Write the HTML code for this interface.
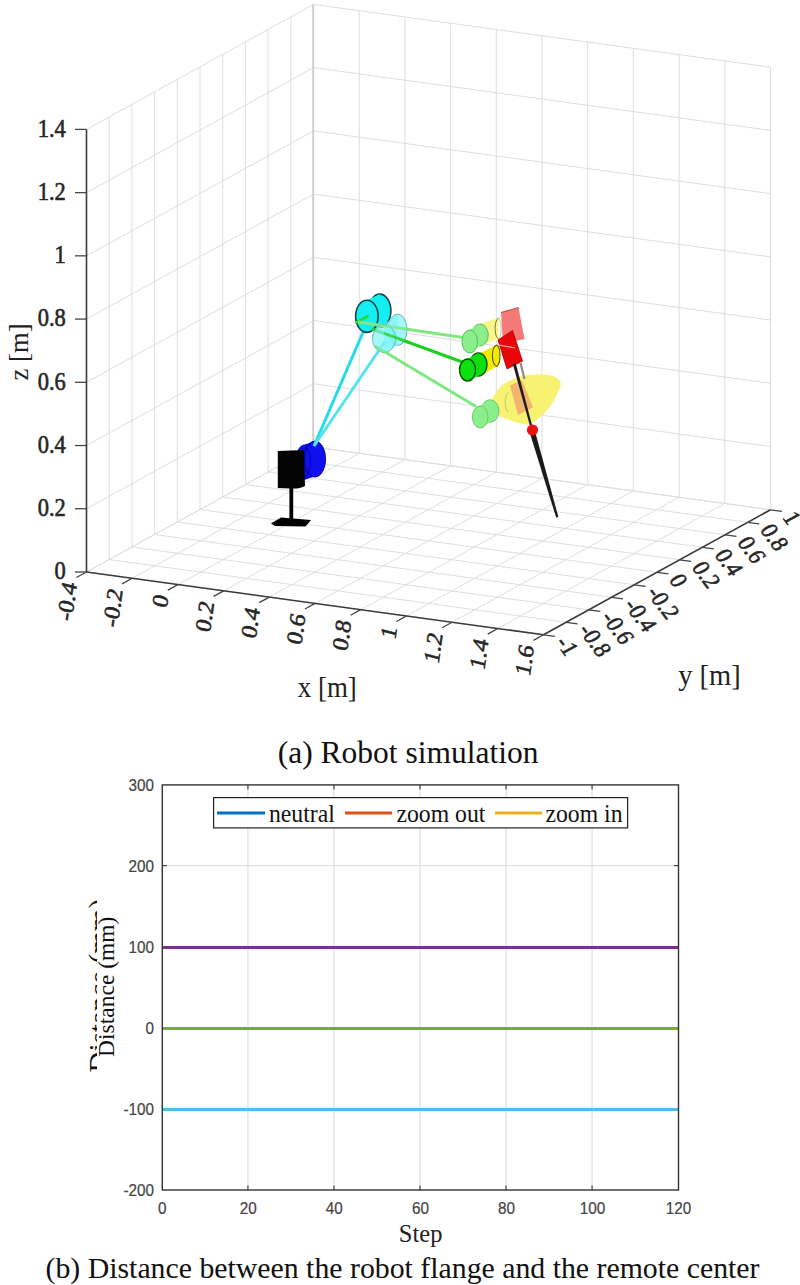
<!DOCTYPE html>
<html><head><meta charset="utf-8">
<style>
html,body{margin:0;padding:0;background:#fff;}
body{width:800px;height:1285px;overflow:hidden;position:relative;}
svg{position:absolute;left:0;top:0;}
.g{stroke:#dedede;stroke-width:1;}
.gc{stroke:#cbcbcb;stroke-width:1.8;}
.ax{stroke:#3a3a3a;stroke-width:1.6;}
.tk{stroke:#444;stroke-width:1.3;}
.tl{font-family:"Liberation Serif",serif;font-size:22.5px;fill:#262626;stroke:#262626;stroke-width:0.55px;}
.lab{font-family:"Liberation Serif",serif;font-size:28px;fill:#222;}
.cap{font-family:"Liberation Serif",serif;font-size:29px;fill:#111;}
.gb{stroke:#d9d9d9;stroke-width:1;}
.tkb{stroke:#444;stroke-width:1.2;}
.tb{font-family:"Liberation Sans",sans-serif;font-size:15.3px;fill:#444;stroke:#444;stroke-width:0.2px;}
.leg{font-family:"Liberation Serif",serif;font-size:23px;fill:#111;}
</style></head><body>
<svg width="800" height="1285" viewBox="0 0 800 1285">
<defs><clipPath id="ghostclip"><rect x="0" y="880" width="97" height="220"/></clipPath></defs>
<g id="grid">
<line x1="86.50" y1="572.00" x2="86.50" y2="129.40" class="g"/>
<line x1="109.20" y1="559.50" x2="109.20" y2="116.90" class="g"/>
<line x1="131.90" y1="547.00" x2="131.90" y2="104.40" class="g"/>
<line x1="154.60" y1="534.50" x2="154.60" y2="91.90" class="g"/>
<line x1="177.30" y1="522.00" x2="177.30" y2="79.40" class="g"/>
<line x1="200.00" y1="509.50" x2="200.00" y2="66.90" class="g"/>
<line x1="222.70" y1="497.00" x2="222.70" y2="54.40" class="g"/>
<line x1="245.40" y1="484.50" x2="245.40" y2="41.90" class="g"/>
<line x1="268.10" y1="472.00" x2="268.10" y2="29.40" class="g"/>
<line x1="290.80" y1="459.50" x2="290.80" y2="16.90" class="g"/>
<line x1="313.50" y1="447.00" x2="313.50" y2="4.40" class="g"/>
<line x1="86.50" y1="572.00" x2="313.50" y2="447.00" class="g"/>
<line x1="86.50" y1="508.77" x2="313.50" y2="383.77" class="g"/>
<line x1="86.50" y1="445.54" x2="313.50" y2="320.54" class="g"/>
<line x1="86.50" y1="382.31" x2="313.50" y2="257.31" class="g"/>
<line x1="86.50" y1="319.09" x2="313.50" y2="194.09" class="g"/>
<line x1="86.50" y1="255.86" x2="313.50" y2="130.86" class="g"/>
<line x1="86.50" y1="192.63" x2="313.50" y2="67.63" class="g"/>
<line x1="86.50" y1="129.40" x2="313.50" y2="4.40" class="g"/>
<line x1="313.50" y1="447.00" x2="313.50" y2="4.40" class="g"/>
<line x1="359.20" y1="453.28" x2="359.20" y2="10.68" class="g"/>
<line x1="404.90" y1="459.56" x2="404.90" y2="16.96" class="g"/>
<line x1="450.60" y1="465.84" x2="450.60" y2="23.24" class="g"/>
<line x1="496.30" y1="472.12" x2="496.30" y2="29.52" class="g"/>
<line x1="542.00" y1="478.40" x2="542.00" y2="35.80" class="g"/>
<line x1="587.70" y1="484.68" x2="587.70" y2="42.08" class="g"/>
<line x1="633.40" y1="490.96" x2="633.40" y2="48.36" class="g"/>
<line x1="679.10" y1="497.24" x2="679.10" y2="54.64" class="g"/>
<line x1="724.80" y1="503.52" x2="724.80" y2="60.92" class="g"/>
<line x1="770.50" y1="509.80" x2="770.50" y2="67.20" class="g"/>
<line x1="313.50" y1="447.00" x2="770.50" y2="509.80" class="g"/>
<line x1="313.50" y1="383.77" x2="770.50" y2="446.57" class="g"/>
<line x1="313.50" y1="320.54" x2="770.50" y2="383.34" class="g"/>
<line x1="313.50" y1="257.31" x2="770.50" y2="320.11" class="g"/>
<line x1="313.50" y1="194.09" x2="770.50" y2="256.89" class="g"/>
<line x1="313.50" y1="130.86" x2="770.50" y2="193.66" class="g"/>
<line x1="313.50" y1="67.63" x2="770.50" y2="130.43" class="g"/>
<line x1="313.50" y1="4.40" x2="770.50" y2="67.20" class="g"/>
<line x1="313.20" y1="447.00" x2="313.20" y2="4.40" class="gc"/>
<line x1="86.50" y1="572.00" x2="543.50" y2="634.80" class="g"/>
<line x1="109.20" y1="559.50" x2="566.20" y2="622.30" class="g"/>
<line x1="131.90" y1="547.00" x2="588.90" y2="609.80" class="g"/>
<line x1="154.60" y1="534.50" x2="611.60" y2="597.30" class="g"/>
<line x1="177.30" y1="522.00" x2="634.30" y2="584.80" class="g"/>
<line x1="200.00" y1="509.50" x2="657.00" y2="572.30" class="g"/>
<line x1="222.70" y1="497.00" x2="679.70" y2="559.80" class="g"/>
<line x1="245.40" y1="484.50" x2="702.40" y2="547.30" class="g"/>
<line x1="268.10" y1="472.00" x2="725.10" y2="534.80" class="g"/>
<line x1="290.80" y1="459.50" x2="747.80" y2="522.30" class="g"/>
<line x1="313.50" y1="447.00" x2="770.50" y2="509.80" class="g"/>
<line x1="86.50" y1="572.00" x2="313.50" y2="447.00" class="g"/>
<line x1="132.20" y1="578.28" x2="359.20" y2="453.28" class="g"/>
<line x1="177.90" y1="584.56" x2="404.90" y2="459.56" class="g"/>
<line x1="223.60" y1="590.84" x2="450.60" y2="465.84" class="g"/>
<line x1="269.30" y1="597.12" x2="496.30" y2="472.12" class="g"/>
<line x1="315.00" y1="603.40" x2="542.00" y2="478.40" class="g"/>
<line x1="360.70" y1="609.68" x2="587.70" y2="484.68" class="g"/>
<line x1="406.40" y1="615.96" x2="633.40" y2="490.96" class="g"/>
<line x1="452.10" y1="622.24" x2="679.10" y2="497.24" class="g"/>
<line x1="497.80" y1="628.52" x2="724.80" y2="503.52" class="g"/>
<line x1="543.50" y1="634.80" x2="770.50" y2="509.80" class="g"/>
</g>
<g id="robot">
<!-- base -->
<polygon points="271,523.5 281,517.5 311,520 305.5,526.5 275,526" fill="#000"/>
<rect x="289.4" y="486" width="3.8" height="33" fill="#000"/>
<g>
<ellipse cx="305" cy="462" rx="10" ry="17.5" fill="#0c0ce0"/>
<polygon points="305,444.5 315,441 315,476.5 305,479.5" fill="#0c0ce0"/>
<ellipse cx="315" cy="459" rx="10.6" ry="18" fill="#1010ee" stroke="#000090" stroke-width="0.9"/>
<path d="M306,447 C312,452 312,470 306,477" fill="none" stroke="#0000a0" stroke-width="0.8"/>
</g>
<path d="M277.8,451 L304,450 L305,486 Q300,489 290,488.5 L277.8,488 Z" fill="#040404"/>
<!-- cyan links -->
<line x1="314" y1="446" x2="367" y2="323" stroke="#22dde8" stroke-width="3"/>
<line x1="314" y1="446" x2="386" y2="340" stroke="#55e3ee" stroke-width="3"/>
<!-- opaque elbow -->
<g stroke="#1a4448" stroke-width="1.6">
<ellipse cx="379.8" cy="310.8" rx="11.1" ry="16.7" fill="#12eef2"/>
<polygon points="366.9,300.2 379.8,294.1 379.8,327.5 366.9,332.4" fill="#12eef2" stroke="none"/>
<ellipse cx="366.9" cy="316.3" rx="11.25" ry="16.1" fill="#12eef2"/>
</g>
<line x1="356.4" y1="322.3" x2="367.6" y2="316.3" stroke="#20e020" stroke-width="2.6" stroke-linecap="round"/>
<!-- green links (under translucent elbow) -->
<line x1="358" y1="322" x2="463" y2="337.5" stroke="#80e880" stroke-width="3"/>
<line x1="372" y1="328.9" x2="465" y2="363.1" stroke="#20d020" stroke-width="3.2"/>
<line x1="375" y1="346" x2="476" y2="406.5" stroke="#80e880" stroke-width="3"/>
<!-- translucent elbow -->
<g stroke="#5aa8b0" stroke-width="1" fill-opacity="0.7" stroke-opacity="0.8">
<ellipse cx="397.6" cy="329.75" rx="9.4" ry="15.75" fill="#80f4f4"/>
<polygon points="384,324.6 397.6,314 397.6,345.5 384,352.6" fill="#80f4f4" stroke="none"/>
<ellipse cx="384" cy="338.6" rx="11.6" ry="14" fill="#80f4f4"/>
</g>
<line x1="380" y1="325.6" x2="410" y2="329.5" stroke="#80e880" stroke-width="2.5" opacity="0.7"/>
<line x1="384" y1="333.3" x2="410" y2="342.9" stroke="#20d020" stroke-width="2.8" opacity="0.75"/>
<line x1="375" y1="346" x2="398" y2="359.8" stroke="#80e880" stroke-width="2.6" opacity="0.6"/>
<!-- wrist top translucent -->
<polygon points="479,324 498.5,318 498.5,339 479,346" fill="#fbf58c"/>
<path d="M498.5,318 C494,320 494,337 498.5,339" fill="none" stroke="#7a7a30" stroke-width="1"/>
<path d="M498.5,318 C502,320 502,337 498.5,339" fill="none" stroke="#7a7a30" stroke-width="0.8" opacity="0.6"/>
<g stroke="#5cbc5c" stroke-width="1">
<ellipse cx="480" cy="335" rx="8.25" ry="11" fill="#8aee8a"/>
<polygon points="469.75,330 480,324 480,346 469.75,353" fill="#8aee8a" stroke="none"/>
<ellipse cx="469.75" cy="341.5" rx="7.75" ry="11.5" fill="#8aee8a"/>
</g>
<polygon points="501,312.5 518.5,307.5 524.5,339 503,344" fill="#f47a78"/>
<line x1="501" y1="312.5" x2="518.5" y2="307.5" stroke="#c05050" stroke-width="1.2"/>
<!-- wrist middle opaque -->
<polygon points="480,353 496.75,345 496.75,366.5 480,376" fill="#f2ea00"/>
<path d="M496.75,345 C491,347 491,364 496.75,366.5 C501,364 501,347 496.75,345 Z" fill="#f2ea00" stroke="#5b5b00" stroke-width="1.1"/>
<g stroke="#075a07" stroke-width="1.5">
<ellipse cx="478.5" cy="364.5" rx="8.5" ry="11.5" fill="#0ee00e"/>
<polygon points="467.5,359 478.5,353 478.5,376 467.5,381" fill="#0ee00e" stroke="none"/>
<ellipse cx="467.5" cy="370" rx="8" ry="11" fill="#0ee00e"/>
</g>
<polygon points="498,340 512.5,330.5 522.5,361 507,369" fill="#ea0606" stroke="#a00000" stroke-width="0.8"/>
<line x1="499" y1="345" x2="515" y2="348" stroke="#f6b0b0" stroke-width="1.2"/>
<!-- wrist bottom translucent -->
<path d="M490,402.5 C496,392 500,385 506.25,382.5 C515,377 525,374.5 535,374.4 C545,374 553,375 557.5,378.75 C561,381 561.5,384 560,387.5 C556,398 550,408 542.5,415 C537,420 532,424 527.5,425 C519,423 510,421 502.5,417.5 C496,414 491,408 490,402.5 Z" fill="#f8f272"/>
<path d="M508.75,392.5 C504,395 504,410 508.75,412.5" fill="none" stroke="#c8c070" stroke-width="1"/>
<polygon points="510,385.6 521.9,380 533,407.5 518,415" fill="#f2b470"/>
<g stroke="#6cc86c" stroke-width="1">
<ellipse cx="490" cy="411" rx="9" ry="11.25" fill="#8aee8a"/>
<polygon points="480.25,406 490,399.75 490,422.25 480.25,428" fill="#8aee8a" stroke="none"/>
<ellipse cx="480.25" cy="417" rx="7.8" ry="11" fill="#8aee8a"/>
</g>
<!-- tool -->
<line x1="520.5" y1="363" x2="524.5" y2="379" stroke="#8a8a8a" stroke-width="2.2"/>
<path d="M512.8,364 L515.8,363.5 L532,425 L530,426 Z" fill="#1e1e1e"/>
<path d="M529.8,433 L535.2,432 L558.4,517 L556.2,517.6 Z" fill="#1a1a1a"/>
<circle cx="532.5" cy="430" r="5.6" fill="#ee1010"/>

</g>
<g id="axes">
<line x1="86.50" y1="572.00" x2="86.50" y2="129.40" class="ax"/>
<line x1="86.50" y1="572.00" x2="543.50" y2="634.80" class="ax"/>
<line x1="543.50" y1="634.80" x2="770.50" y2="509.80" class="ax"/>
<line x1="86.50" y1="572.00" x2="75.00" y2="572.00" class="tk"/>
<line x1="86.50" y1="508.77" x2="75.00" y2="508.77" class="tk"/>
<line x1="86.50" y1="445.54" x2="75.00" y2="445.54" class="tk"/>
<line x1="86.50" y1="382.31" x2="75.00" y2="382.31" class="tk"/>
<line x1="86.50" y1="319.09" x2="75.00" y2="319.09" class="tk"/>
<line x1="86.50" y1="255.86" x2="75.00" y2="255.86" class="tk"/>
<line x1="86.50" y1="192.63" x2="75.00" y2="192.63" class="tk"/>
<line x1="86.50" y1="129.40" x2="75.00" y2="129.40" class="tk"/>
<line x1="86.50" y1="572.00" x2="76.43" y2="577.55" class="tk"/>
<line x1="132.20" y1="578.28" x2="122.13" y2="583.83" class="tk"/>
<line x1="177.90" y1="584.56" x2="167.83" y2="590.11" class="tk"/>
<line x1="223.60" y1="590.84" x2="213.53" y2="596.39" class="tk"/>
<line x1="269.30" y1="597.12" x2="259.23" y2="602.67" class="tk"/>
<line x1="315.00" y1="603.40" x2="304.93" y2="608.95" class="tk"/>
<line x1="360.70" y1="609.68" x2="350.63" y2="615.23" class="tk"/>
<line x1="406.40" y1="615.96" x2="396.33" y2="621.51" class="tk"/>
<line x1="452.10" y1="622.24" x2="442.03" y2="627.79" class="tk"/>
<line x1="497.80" y1="628.52" x2="487.73" y2="634.07" class="tk"/>
<line x1="543.50" y1="634.80" x2="533.43" y2="640.35" class="tk"/>
<line x1="543.50" y1="634.80" x2="554.89" y2="636.37" class="tk"/>
<line x1="566.20" y1="622.30" x2="577.59" y2="623.87" class="tk"/>
<line x1="588.90" y1="609.80" x2="600.29" y2="611.37" class="tk"/>
<line x1="611.60" y1="597.30" x2="622.99" y2="598.87" class="tk"/>
<line x1="634.30" y1="584.80" x2="645.69" y2="586.37" class="tk"/>
<line x1="657.00" y1="572.30" x2="668.39" y2="573.87" class="tk"/>
<line x1="679.70" y1="559.80" x2="691.09" y2="561.37" class="tk"/>
<line x1="702.40" y1="547.30" x2="713.79" y2="548.87" class="tk"/>
<line x1="725.10" y1="534.80" x2="736.49" y2="536.37" class="tk"/>
<line x1="747.80" y1="522.30" x2="759.19" y2="523.87" class="tk"/>
<line x1="770.50" y1="509.80" x2="781.89" y2="511.37" class="tk"/>
</g>
<text transform="translate(65.80,579.20) scale(1,1.15)" text-anchor="end" class="tl" >0</text>
<text transform="translate(65.80,515.97) scale(1,1.15)" text-anchor="end" class="tl" >0.2</text>
<text transform="translate(65.80,452.74) scale(1,1.15)" text-anchor="end" class="tl" >0.4</text>
<text transform="translate(65.80,389.51) scale(1,1.15)" text-anchor="end" class="tl" >0.6</text>
<text transform="translate(65.80,326.29) scale(1,1.15)" text-anchor="end" class="tl" >0.8</text>
<text transform="translate(65.80,263.06) scale(1,1.15)" text-anchor="end" class="tl" >1</text>
<text transform="translate(65.80,199.83) scale(1,1.15)" text-anchor="end" class="tl" >1.2</text>
<text transform="translate(65.80,136.60) scale(1,1.15)" text-anchor="end" class="tl" >1.4</text>
<g transform="translate(70.22,582.54) rotate(-82) skewX(-6) scale(1.08,1)"><text x="0" y="7" text-anchor="end" class="tl">-0.4</text></g>
<g transform="translate(115.92,588.82) rotate(-82) skewX(-6) scale(1.08,1)"><text x="0" y="7" text-anchor="end" class="tl">-0.2</text></g>
<g transform="translate(161.62,595.10) rotate(-82) skewX(-6) scale(1.08,1)"><text x="0" y="7" text-anchor="end" class="tl">0</text></g>
<g transform="translate(207.32,601.38) rotate(-82) skewX(-6) scale(1.08,1)"><text x="0" y="7" text-anchor="end" class="tl">0.2</text></g>
<g transform="translate(253.02,607.66) rotate(-82) skewX(-6) scale(1.08,1)"><text x="0" y="7" text-anchor="end" class="tl">0.4</text></g>
<g transform="translate(298.72,613.94) rotate(-82) skewX(-6) scale(1.08,1)"><text x="0" y="7" text-anchor="end" class="tl">0.6</text></g>
<g transform="translate(344.42,620.22) rotate(-82) skewX(-6) scale(1.08,1)"><text x="0" y="7" text-anchor="end" class="tl">0.8</text></g>
<g transform="translate(390.12,626.50) rotate(-82) skewX(-6) scale(1.08,1)"><text x="0" y="7" text-anchor="end" class="tl">1</text></g>
<g transform="translate(435.82,632.78) rotate(-82) skewX(-6) scale(1.08,1)"><text x="0" y="7" text-anchor="end" class="tl">1.2</text></g>
<g transform="translate(481.52,639.06) rotate(-82) skewX(-6) scale(1.08,1)"><text x="0" y="7" text-anchor="end" class="tl">1.4</text></g>
<g transform="translate(527.22,645.34) rotate(-82) skewX(-6) scale(1.08,1)"><text x="0" y="7" text-anchor="end" class="tl">1.6</text></g>
<g transform="translate(561.33,638.75) scale(1,1.12) rotate(50) skewX(-14) scale(0.93,1)"><text x="0" y="7" text-anchor="start" class="tl">-1</text></g>
<g transform="translate(584.03,626.25) scale(1,1.12) rotate(50) skewX(-14) scale(0.93,1)"><text x="0" y="7" text-anchor="start" class="tl">-0.8</text></g>
<g transform="translate(606.73,613.75) scale(1,1.12) rotate(50) skewX(-14) scale(0.93,1)"><text x="0" y="7" text-anchor="start" class="tl">-0.6</text></g>
<g transform="translate(629.43,601.25) scale(1,1.12) rotate(50) skewX(-14) scale(0.93,1)"><text x="0" y="7" text-anchor="start" class="tl">-0.4</text></g>
<g transform="translate(652.13,588.75) scale(1,1.12) rotate(50) skewX(-14) scale(0.93,1)"><text x="0" y="7" text-anchor="start" class="tl">-0.2</text></g>
<g transform="translate(674.83,576.25) scale(1,1.12) rotate(50) skewX(-14) scale(0.93,1)"><text x="0" y="7" text-anchor="start" class="tl">0</text></g>
<g transform="translate(697.53,563.75) scale(1,1.12) rotate(50) skewX(-14) scale(0.93,1)"><text x="0" y="7" text-anchor="start" class="tl">0.2</text></g>
<g transform="translate(720.23,551.25) scale(1,1.12) rotate(50) skewX(-14) scale(0.93,1)"><text x="0" y="7" text-anchor="start" class="tl">0.4</text></g>
<g transform="translate(742.93,538.75) scale(1,1.12) rotate(50) skewX(-14) scale(0.93,1)"><text x="0" y="7" text-anchor="start" class="tl">0.6</text></g>
<g transform="translate(765.63,526.25) scale(1,1.12) rotate(50) skewX(-14) scale(0.93,1)"><text x="0" y="7" text-anchor="start" class="tl">0.8</text></g>
<g transform="translate(788.33,513.75) scale(1,1.12) rotate(50) skewX(-14) scale(0.93,1)"><text x="0" y="7" text-anchor="start" class="tl">1</text></g>
<text transform="translate(28.00,352.00) rotate(-90) scale(1,1.04)" text-anchor="middle" class="lab" style="font-size:26.7px">z [m]</text>
<text transform="translate(327.30,697.20) scale(1,1.1)" text-anchor="middle" class="lab" style="font-size:26.9px">x [m]</text>
<text transform="translate(709.40,685.00)" text-anchor="middle" class="lab" style="font-size:28.5px">y&#160;[m]</text>
<text transform="translate(408.10,762.50)" text-anchor="middle" class="cap" style="font-size:31.5px">(a) Robot simulation</text>

<g id="plotb">
<line x1="247.93" y1="784.90" x2="247.93" y2="1190.00" class="gb"/>
<line x1="247.93" y1="1190.00" x2="247.93" y2="1185.50" class="tkb"/>
<line x1="247.93" y1="784.90" x2="247.93" y2="789.40" class="tkb"/>
<line x1="333.97" y1="784.90" x2="333.97" y2="1190.00" class="gb"/>
<line x1="333.97" y1="1190.00" x2="333.97" y2="1185.50" class="tkb"/>
<line x1="333.97" y1="784.90" x2="333.97" y2="789.40" class="tkb"/>
<line x1="420.00" y1="784.90" x2="420.00" y2="1190.00" class="gb"/>
<line x1="420.00" y1="1190.00" x2="420.00" y2="1185.50" class="tkb"/>
<line x1="420.00" y1="784.90" x2="420.00" y2="789.40" class="tkb"/>
<line x1="506.03" y1="784.90" x2="506.03" y2="1190.00" class="gb"/>
<line x1="506.03" y1="1190.00" x2="506.03" y2="1185.50" class="tkb"/>
<line x1="506.03" y1="784.90" x2="506.03" y2="789.40" class="tkb"/>
<line x1="592.07" y1="784.90" x2="592.07" y2="1190.00" class="gb"/>
<line x1="592.07" y1="1190.00" x2="592.07" y2="1185.50" class="tkb"/>
<line x1="592.07" y1="784.90" x2="592.07" y2="789.40" class="tkb"/>
<line x1="162.30" y1="1108.68" x2="678.50" y2="1108.68" class="gb"/>
<line x1="162.30" y1="1108.68" x2="166.80" y2="1108.68" class="tkb"/>
<line x1="678.50" y1="1108.68" x2="674.00" y2="1108.68" class="tkb"/>
<line x1="162.30" y1="1027.66" x2="678.50" y2="1027.66" class="gb"/>
<line x1="162.30" y1="1027.66" x2="166.80" y2="1027.66" class="tkb"/>
<line x1="678.50" y1="1027.66" x2="674.00" y2="1027.66" class="tkb"/>
<line x1="162.30" y1="946.64" x2="678.50" y2="946.64" class="gb"/>
<line x1="162.30" y1="946.64" x2="166.80" y2="946.64" class="tkb"/>
<line x1="678.50" y1="946.64" x2="674.00" y2="946.64" class="tkb"/>
<line x1="162.30" y1="865.62" x2="678.50" y2="865.62" class="gb"/>
<line x1="162.30" y1="865.62" x2="166.80" y2="865.62" class="tkb"/>
<line x1="678.50" y1="865.62" x2="674.00" y2="865.62" class="tkb"/>
<line x1="162.30" y1="947.44" x2="678.50" y2="947.44" stroke="#7E2F8E" stroke-width="3"/>
<line x1="162.30" y1="1028.46" x2="678.50" y2="1028.46" stroke="#77AC30" stroke-width="3"/>
<line x1="162.30" y1="1109.48" x2="678.50" y2="1109.48" stroke="#4DBEEE" stroke-width="3"/>
<rect x="162.30" y="784.90" width="516.20" height="405.10" fill="none" stroke="#333" stroke-width="1.4"/>
<text transform="translate(154.10,1195.60) scale(1,1.1)" text-anchor="end" class="tb" >-200</text>
<text transform="translate(154.10,1114.58) scale(1,1.1)" text-anchor="end" class="tb" >-100</text>
<text transform="translate(154.10,1033.56) scale(1,1.1)" text-anchor="end" class="tb" >0</text>
<text transform="translate(154.10,952.54) scale(1,1.1)" text-anchor="end" class="tb" >100</text>
<text transform="translate(154.10,871.52) scale(1,1.1)" text-anchor="end" class="tb" >200</text>
<text transform="translate(154.10,790.50) scale(1,1.1)" text-anchor="end" class="tb" >300</text>
<text transform="translate(162.30,1214.20) scale(1,1.1)" text-anchor="middle" class="tb" >0</text>
<text transform="translate(248.33,1214.20) scale(1,1.1)" text-anchor="middle" class="tb" >20</text>
<text transform="translate(334.37,1214.20) scale(1,1.1)" text-anchor="middle" class="tb" >40</text>
<text transform="translate(420.40,1214.20) scale(1,1.1)" text-anchor="middle" class="tb" >60</text>
<text transform="translate(506.43,1214.20) scale(1,1.1)" text-anchor="middle" class="tb" >80</text>
<text transform="translate(592.47,1214.20) scale(1,1.1)" text-anchor="middle" class="tb" >100</text>
<text transform="translate(678.50,1214.20) scale(1,1.1)" text-anchor="middle" class="tb" >120</text>
<rect x="213.6" y="797.6" width="414" height="30.3" fill="#fff" stroke="#222" stroke-width="1.2"/>
<line x1="217" y1="813" x2="265" y2="813" stroke="#0072BD" stroke-width="3"/>
<line x1="345" y1="813" x2="392" y2="813" stroke="#D95319" stroke-width="3"/>
<line x1="495" y1="813" x2="542" y2="813" stroke="#EDB120" stroke-width="3"/>
<text transform="translate(269.00,822.00) scale(1,1.07)" text-anchor="start" class="leg" style="font-size:23.7px">neutral</text>
<text transform="translate(396.50,822.00) scale(1,1.07)" text-anchor="start" class="leg" style="font-size:23.7px">zoom out</text>
<text transform="translate(545.50,822.00) scale(1,1.07)" text-anchor="start" class="leg" style="font-size:23.7px">zoom in</text>
<g clip-path="url(#ghostclip)"><text transform="translate(109.30,985.75) rotate(-90)" text-anchor="middle" class="leg" style="font-size:29.1px">Distance (mm)</text></g>
<text transform="translate(113.90,986.75) rotate(-90)" text-anchor="middle" class="leg" style="font-size:23.5px">Distance (mm)</text>
<text transform="translate(420.60,1241.80)" text-anchor="middle" class="lab" style="font-size:24.5px">Step</text>
</g>
<text transform="translate(402.50,1278.00)" text-anchor="middle" class="cap" style="font-size:29.8px">(b) Distance between the robot flange and the remote center</text>
</svg>
</body></html>
